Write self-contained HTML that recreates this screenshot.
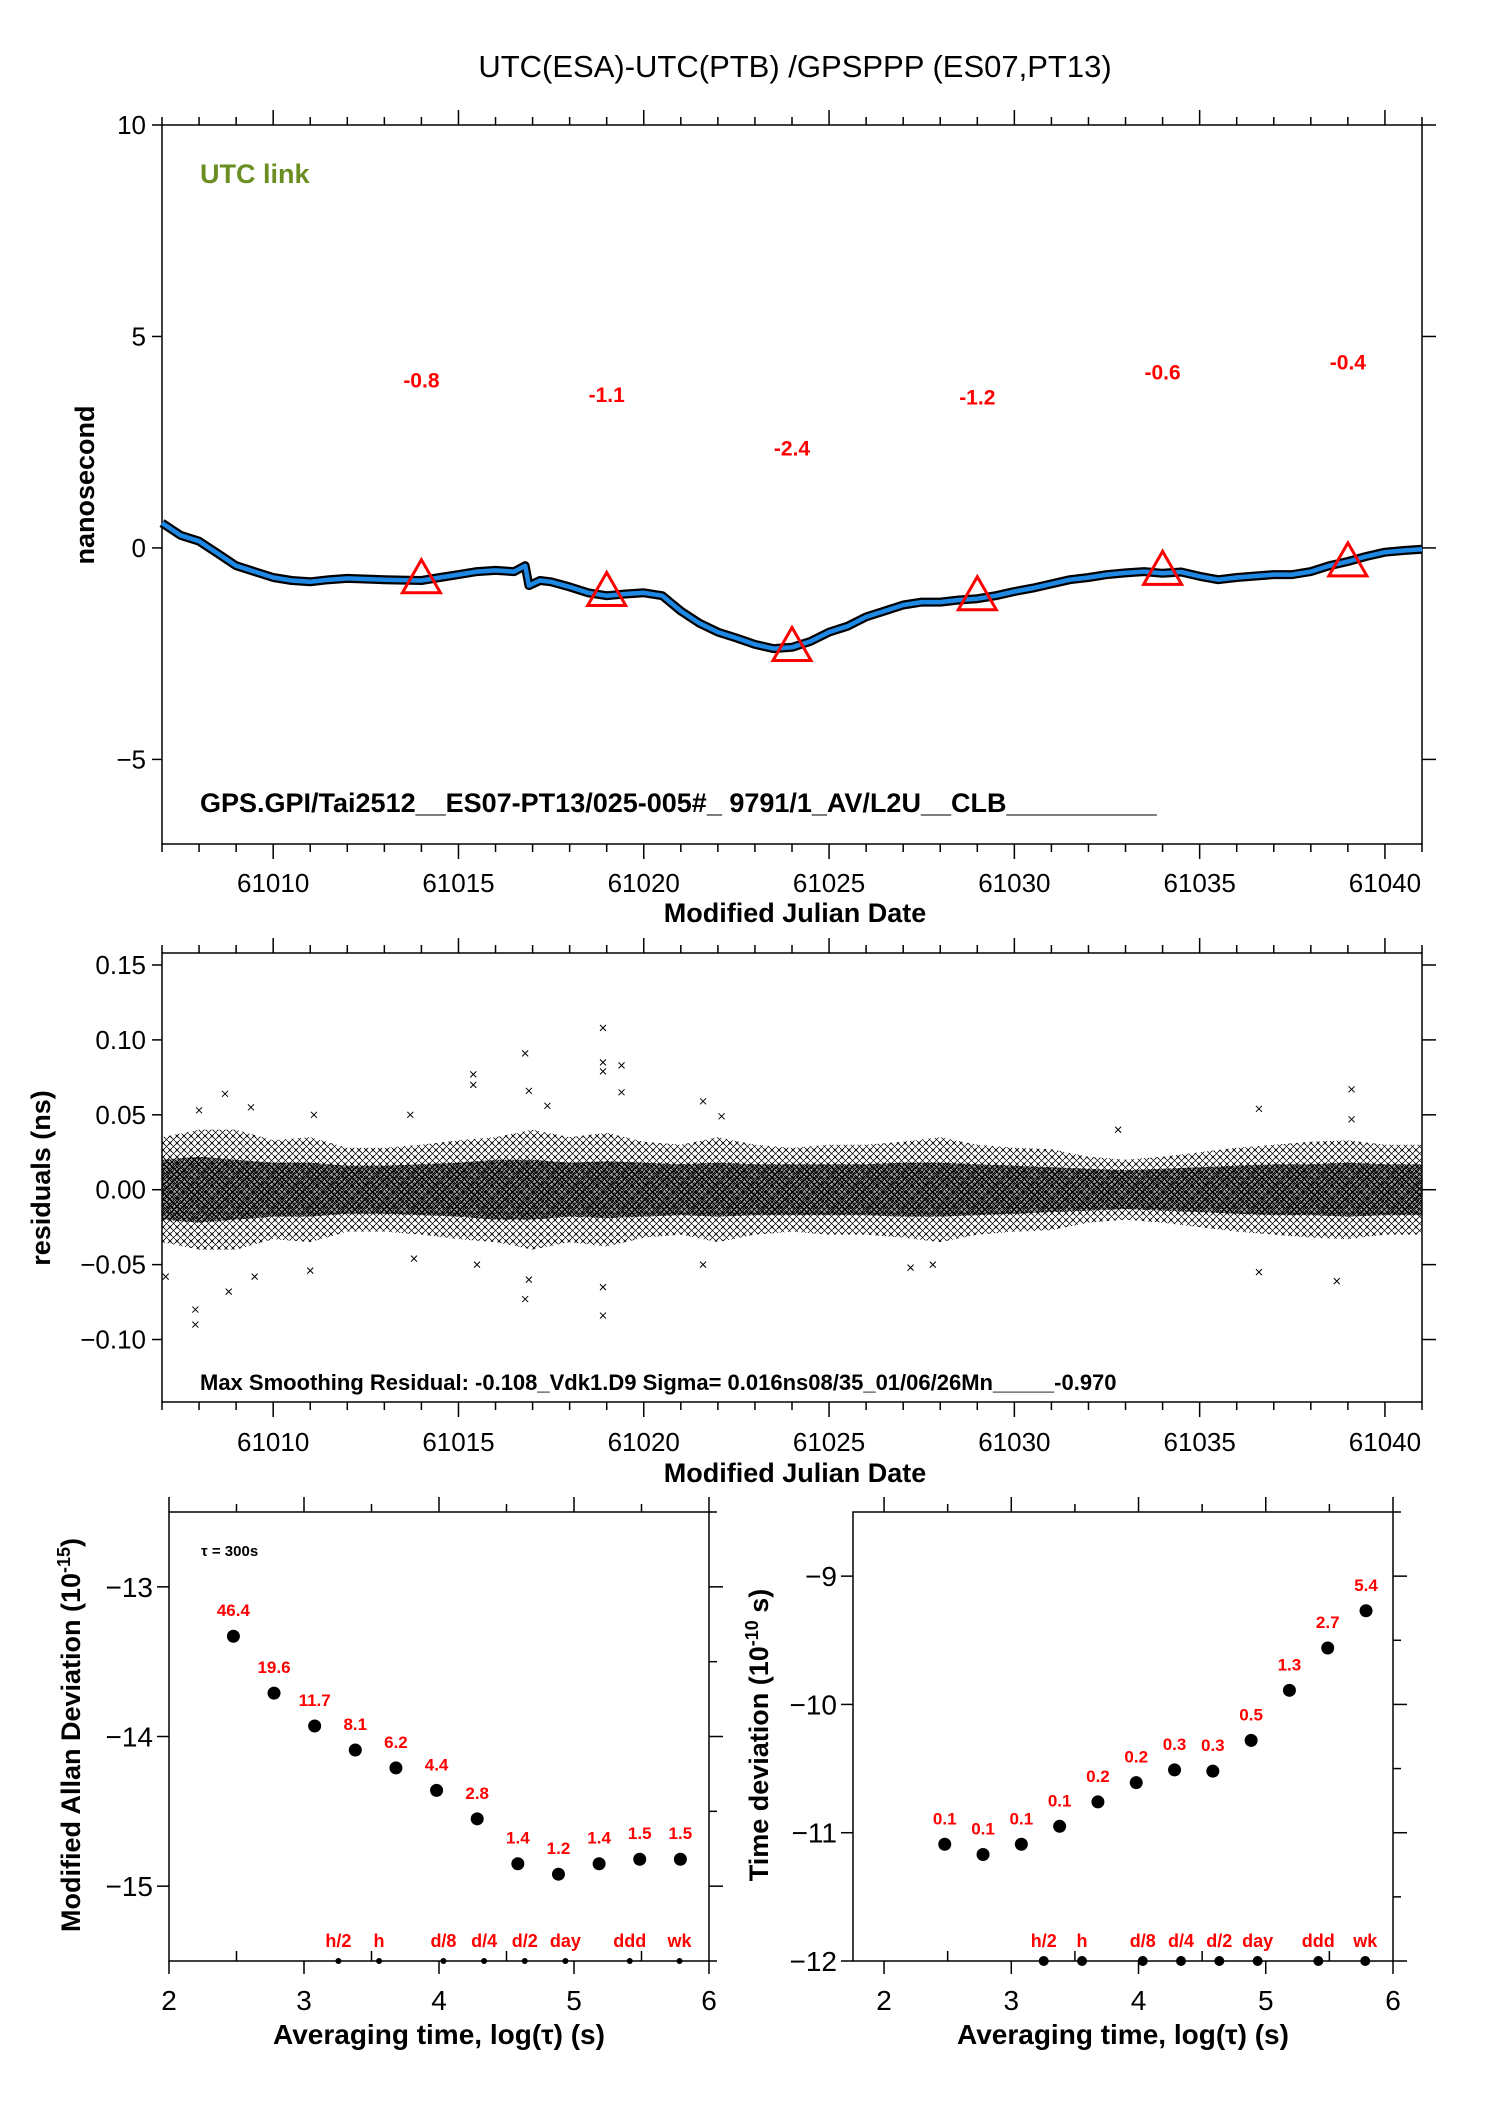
<!DOCTYPE html>
<html><head><meta charset="utf-8"><style>
html,body{margin:0;padding:0;background:#fff;}
svg{display:block;font-family:"Liberation Sans",sans-serif;}
</style></head><body>
<svg id="chart" width="1488" height="2105" viewBox="0 0 1488 2105" xmlns="http://www.w3.org/2000/svg">
<defs>
<pattern id="xdense" width="5" height="5" patternUnits="userSpaceOnUse"><path d="M0 0L4 4M4 0L0 4" stroke="#000" stroke-width="1"/><path d="M2.5 2.5L5 5M5 2.5L2.5 5" stroke="#000" stroke-width="0.8"/></pattern>
<pattern id="xsparse" width="7" height="7" patternUnits="userSpaceOnUse"><path d="M0 0L4 4M4 0L0 4" stroke="#000" stroke-width="0.9"/><path d="M4 4L7 7M7 4L4 7" stroke="#000" stroke-width="0.7"/></pattern>
</defs>
<text x="795" y="77" font-size="31" text-anchor="middle">UTC(ESA)-UTC(PTB)  /GPSPPP  (ES07,PT13)</text>
<g id="top"></g>
<g id="mid"></g>
<g id="bl"></g>
<g id="br"></g>
</svg>
<script>
// ---- data ----
const mjd = [61007,61007.5,61008,61008.5,61009,61009.5,61010,61010.5,61011,61011.5,61012,61013,61014,61014.5,61015,61015.5,61016,61016.5,61016.8,61016.9,61017.2,61017.5,61018,61018.5,61019,61019.5,61020,61020.5,61021,61021.5,61022,61022.5,61023,61023.5,61024,61024.5,61025,61025.5,61026,61026.5,61027,61027.5,61028,61028.5,61029,61029.5,61030,61030.5,61031,61031.5,61032,61032.5,61033,61033.5,61034,61034.5,61035,61035.5,61036,61037,61037.5,61038,61038.5,61039,61039.5,61040,61040.5,61041];
const offsetNs = [0.59,0.30,0.16,-0.13,-0.42,-0.56,-0.70,-0.77,-0.80,-0.75,-0.72,-0.75,-0.77,-0.70,-0.63,-0.56,-0.53,-0.56,-0.42,-0.89,-0.77,-0.80,-0.92,-1.06,-1.13,-1.09,-1.06,-1.13,-1.49,-1.78,-1.99,-2.13,-2.28,-2.38,-2.35,-2.21,-1.99,-1.85,-1.63,-1.49,-1.35,-1.28,-1.28,-1.23,-1.20,-1.13,-1.03,-0.95,-0.85,-0.75,-0.70,-0.63,-0.59,-0.56,-0.60,-0.57,-0.67,-0.75,-0.70,-0.63,-0.63,-0.56,-0.42,-0.32,-0.20,-0.10,-0.06,-0.03];
const triMjd = [61014,61019,61024,61029,61034,61039];
const triVal = [-0.8,-1.1,-2.4,-1.2,-0.6,-0.4];
const triLabelY = [3.98,3.64,2.38,3.58,4.17,4.41];
const topYTicks = [10,5,0,-5];
const mjdTicks = [61010,61015,61020,61025,61030,61035,61040];

const resDays = [61007,61008,61009,61010,61011,61012,61013,61014,61015,61016,61017,61018,61019,61020,61021,61022,61023,61024,61025,61026,61027,61028,61029,61030,61031,61032,61033,61034,61035,61036,61037,61038,61039,61040,61041];
const resOuter = [0.035,0.04,0.04,0.033,0.035,0.028,0.028,0.03,0.033,0.035,0.04,0.035,0.038,0.032,0.03,0.035,0.03,0.028,0.03,0.03,0.032,0.035,0.03,0.028,0.027,0.022,0.02,0.022,0.025,0.028,0.03,0.032,0.033,0.03,0.03];
const resInner = [0.02,0.022,0.02,0.018,0.018,0.016,0.016,0.017,0.018,0.02,0.02,0.018,0.019,0.018,0.017,0.018,0.017,0.017,0.017,0.017,0.018,0.018,0.017,0.016,0.015,0.014,0.013,0.014,0.015,0.016,0.017,0.017,0.018,0.017,0.017];
const outX = [61007.9,61007.9,61008,61008.7,61008.8,61009.5,61011,61011.1,61013.7,61013.8,61015.4,61015.4,61015.5,61016.8,61016.9,61016.8,61016.9,61017.4,61018.9,61018.9,61018.9,61018.9,61018.9,61019.4,61019.4,61021.6,61021.6,61022.1,61027.2,61027.8,61032.8,61036.6,61036.6,61038.7,61039.1,61039.1,61007.1,61009.4];
const outY = [-0.09,-0.08,0.053,0.064,-0.068,-0.058,-0.054,0.05,0.05,-0.046,0.077,0.07,-0.05,0.091,0.066,-0.073,-0.06,0.056,0.108,0.085,0.079,-0.084,-0.065,0.083,0.065,0.059,-0.05,0.049,-0.052,-0.05,0.04,0.054,-0.055,-0.061,0.067,0.047,-0.058,0.055];
const resYTicks = [0.15,0.10,0.05,0.00,-0.05,-0.10];
const resYLabels = ["0.15","0.10","0.05","0.00","\u22120.05","\u22120.10"];

const logTau = [2.477,2.778,3.079,3.380,3.681,3.982,4.283,4.584,4.885,5.186,5.487,5.788];
const mdevLog = [-13.33,-13.71,-13.93,-14.09,-14.21,-14.36,-14.55,-14.85,-14.92,-14.85,-14.82,-14.82];
const mdevLabels = ["46.4","19.6","11.7","8.1","6.2","4.4","2.8","1.4","1.2","1.4","1.5","1.5"];
const tdevLog = [-11.09,-11.17,-11.09,-10.95,-10.76,-10.61,-10.51,-10.52,-10.28,-9.89,-9.56,-9.27];
const tdevLabels = ["0.1","0.1","0.1","0.1","0.2","0.2","0.3","0.3","0.5","1.3","2.7","5.4"];
const markTau = [3.255,3.556,4.033,4.334,4.635,4.936,5.413,5.782];
const markLabels = ["h/2","h","d/8","d/4","d/2","day","ddd","wk"];

// ---- helpers ----
const NS="http://www.w3.org/2000/svg";
function el(parent,tag,attrs,text){const e=document.createElementNS(NS,tag);for(const k in attrs)e.setAttribute(k,attrs[k]);if(text!==undefined)e.textContent=text;parent.appendChild(e);return e;}
function lin(d0,d1,r0,r1){return v=>r0+(v-d0)*(r1-r0)/(d1-d0);}
function frame(g,L,T,R,B){const r=el(g,'rect',{x:L,y:T,width:R-L,height:B-T,fill:'none',stroke:'#000','stroke-width':1.5});

}
function tick(g,x1,y1,x2,y2,w){el(g,'line',{x1:x1,y1:y1,x2:x2,y2:y2,stroke:'#000','stroke-width':w||1.5});}
const TL=162,TR=1422;

// ---- top panel ----
(function(){
const g=document.getElementById('top');const L=TL,R=TR,T=125,B=844;
const X=lin(61007,61041,L,R),Y=lin(-7,10,B,T);
frame(g,L,T,R,B);
for(let d=61007;d<=61041;d++){const maj=d%5===0;tick(g,X(d),T,X(d),T-(maj?15:8));tick(g,X(d),B,X(d),B+(maj?15:8));}
const xl=el(g,'g',{});
mjdTicks.forEach(v=>el(xl,'text',{x:X(v),y:892,'font-size':26,'text-anchor':'middle'},v));
topYTicks.forEach(v=>{tick(g,L,Y(v),L-10,Y(v));tick(g,R,Y(v),R+14,Y(v));
 el(g,'text',{x:L-16,y:Y(v)+9,'font-size':26,'text-anchor':'end'},v<0?'\u2212'+(-v):v);});
const xt=el(g,'text',{x:795,y:922,'font-size':27,'font-weight':'bold','text-anchor':'middle'},'Modified Julian Date');

const yt=el(g,'text',{x:0,y:0,'font-size':27,'font-weight':'bold','text-anchor':'middle',transform:'translate(94,485) rotate(-90)'},'nanosecond');

const lk=el(g,'text',{x:200,y:183,'font-size':27,'font-weight':'bold',fill:'#6b8e23'},'UTC link');

const inf=el(g,'text',{x:200,y:812,'font-size':27,'font-weight':'bold'},'GPS.GPI/Tai2512__ES07-PT13/025-005#_  9791/1_AV/L2U__CLB__________');

const pts=mjd.map((d,i)=>X(d).toFixed(1)+','+Y(offsetNs[i]).toFixed(1)).join(' ');
const sh=el(g,'polyline',{points:pts,fill:'none',stroke:'#000','stroke-width':9,'stroke-linejoin':'round'});

const ln=el(g,'polyline',{points:pts,fill:'none',stroke:'#1e88e5','stroke-width':4.5,'stroke-linejoin':'round'});

triMjd.forEach((d,i)=>{const cx=X(d),cy=Y(triVal[i]);
 const t=el(g,'polygon',{points:`${cx},${cy-22} ${cx-19},${cy+11} ${cx+19},${cy+11}`,fill:'none',stroke:'#f00','stroke-width':3});
 
 const lb=el(g,'text',{x:cx,y:Y(triLabelY[i])+8,'font-size':21,'font-weight':'bold',fill:'#f00','text-anchor':'middle'},triVal[i].toFixed(1));
 });
})();

// ---- residual panel ----
(function(){
const g=document.getElementById('mid');const L=TL,R=TR,T=953,B=1402;
const X=lin(61007,61041,L,R),Y=lin(-0.1417,0.158,B,T);
for(let d=61007;d<=61041;d++){const maj=d%5===0;tick(g,X(d),T,X(d),T-(maj?15:8));tick(g,X(d),B,X(d),B+(maj?15:8));}
resYTicks.forEach((v,i)=>{tick(g,L,Y(v),L-10,Y(v));tick(g,R,Y(v),R+14,Y(v));
 el(g,'text',{x:L-16,y:Y(v)+9,'font-size':26,'text-anchor':'end'},resYLabels[i]);});
const up=resDays.map((d,i)=>X(d)+','+Y(resOuter[i])),dn=resDays.map((d,i)=>X(d)+','+Y(-resOuter[i])).reverse();
const ob=el(g,'polygon',{points:up.concat(dn).join(' '),fill:'url(#xsparse)'});

const ui=resDays.map((d,i)=>X(d)+','+Y(resInner[i])),di=resDays.map((d,i)=>X(d)+','+Y(-resInner[i])).reverse();
const ib=el(g,'polygon',{points:ui.concat(di).join(' '),fill:'url(#xdense)'});

const ib2=el(g,'polygon',{points:ui.concat(di).join(' '),fill:'#000','fill-opacity':0.3});

outX.forEach((d,i)=>{const x=X(d),y=Y(outY[i]);
 const m=el(g,'path',{d:`M${x-3},${y-3}L${x+3},${y+3}M${x+3},${y-3}L${x-3},${y+3}`,stroke:'#000','stroke-width':1});
 });
frame(g,L,T,R,B);
mjdTicks.forEach(v=>el(g,'text',{x:X(v),y:1451,'font-size':26,'text-anchor':'middle'},v));
const xt=el(g,'text',{x:795,y:1482,'font-size':27,'font-weight':'bold','text-anchor':'middle'},'Modified Julian Date');

const yt=el(g,'text',{x:0,y:0,'font-size':27,'font-weight':'bold','text-anchor':'middle',transform:'translate(50,1178) rotate(-90)'},'residuals (ns)');

const st=el(g,'text',{x:200,y:1390,'font-size':22,'font-weight':'bold'},'Max Smoothing Residual: -0.108_Vdk1.D9  Sigma= 0.016ns08/35_01/06/26Mn_____-0.970');

})();

// ---- stability panels ----
function stab(id,L,R,x0,y0,y1,yMaj,vals,labs,yTitle,yTitleX,tauNote){
const g=document.getElementById(id);const T=1512,B=1961;
const X=lin(x0,6,L,R),Y=lin(y0,y1,B,T);
frame(g,L,T,R,B);
for(let v=2;v<=6;v+=0.5){if(X(v)<L-1)continue;const maj=v%1===0;tick(g,X(v),T,X(v),T-(maj?15:8));if(maj)tick(g,X(v),B,X(v),B+13);else tick(g,X(v),B,X(v),B-10);
 if(maj)el(g,'text',{x:X(v),y:2010,'font-size':28,'text-anchor':'middle'},v);}
yMaj.forEach(v=>{tick(g,L,Y(v),L-12,Y(v));tick(g,R,Y(v),R+14,Y(v));
 el(g,'text',{x:L-16,y:Y(v)+10,'font-size':28,'text-anchor':'end'},'\u2212'+(-v));});
for(let v=Math.ceil(y0*2)/2;v<=y1;v+=0.5){if(v%1!==0)tick(g,R,Y(v),R+8,Y(v));}
const xt=el(g,'text',{x:(L+R)/2,y:2044,'font-size':28,'font-weight':'bold','text-anchor':'middle'},'Averaging time, log(\u03c4) (s)');

const yt=el(g,'text',{x:0,y:0,'font-size':27,'font-weight':'bold','text-anchor':'middle',transform:`translate(${yTitleX},1735) rotate(-90)`});

yt.innerHTML=yTitle;
logTau.forEach((t,i)=>{const c=el(g,'circle',{cx:X(t),cy:Y(vals[i]),r:6.5,fill:'#000'});
 
 const lb=el(g,'text',{x:X(t),y:Y(vals[i])-20,'font-size':17,'font-weight':'bold',fill:'#f00','text-anchor':'middle'},labs[i]);
 });
markTau.forEach((t,i)=>{const d=el(g,'circle',{cx:X(t),cy:B,r:id==='br'?5:3,fill:'#000'});
 
 const lb=el(g,'text',{x:X(t),y:1947,'font-size':18,'font-weight':'bold',fill:'#f00','text-anchor':'middle'},markLabels[i]);
 });
if(tauNote){const n=el(g,'text',{x:L+32,y:1556,'font-size':15,'font-weight':'bold'},'\u03c4 = 300s');
 }
}
stab('bl',169,709,2,-15.5,-12.5,[-13,-14,-15],mdevLog,mdevLabels,'Modified Allan Deviation (10<tspan dy="-10" font-size="18">-15</tspan><tspan dy="10">)</tspan>',80,true);
stab('br',853,1393,1.756,-12,-8.5,[-9,-10,-11,-12],tdevLog,tdevLabels,'Time deviation (10<tspan dy="-10" font-size="18">-10</tspan><tspan dy="10"> s)</tspan>',768,false);
</script>
</body></html>
